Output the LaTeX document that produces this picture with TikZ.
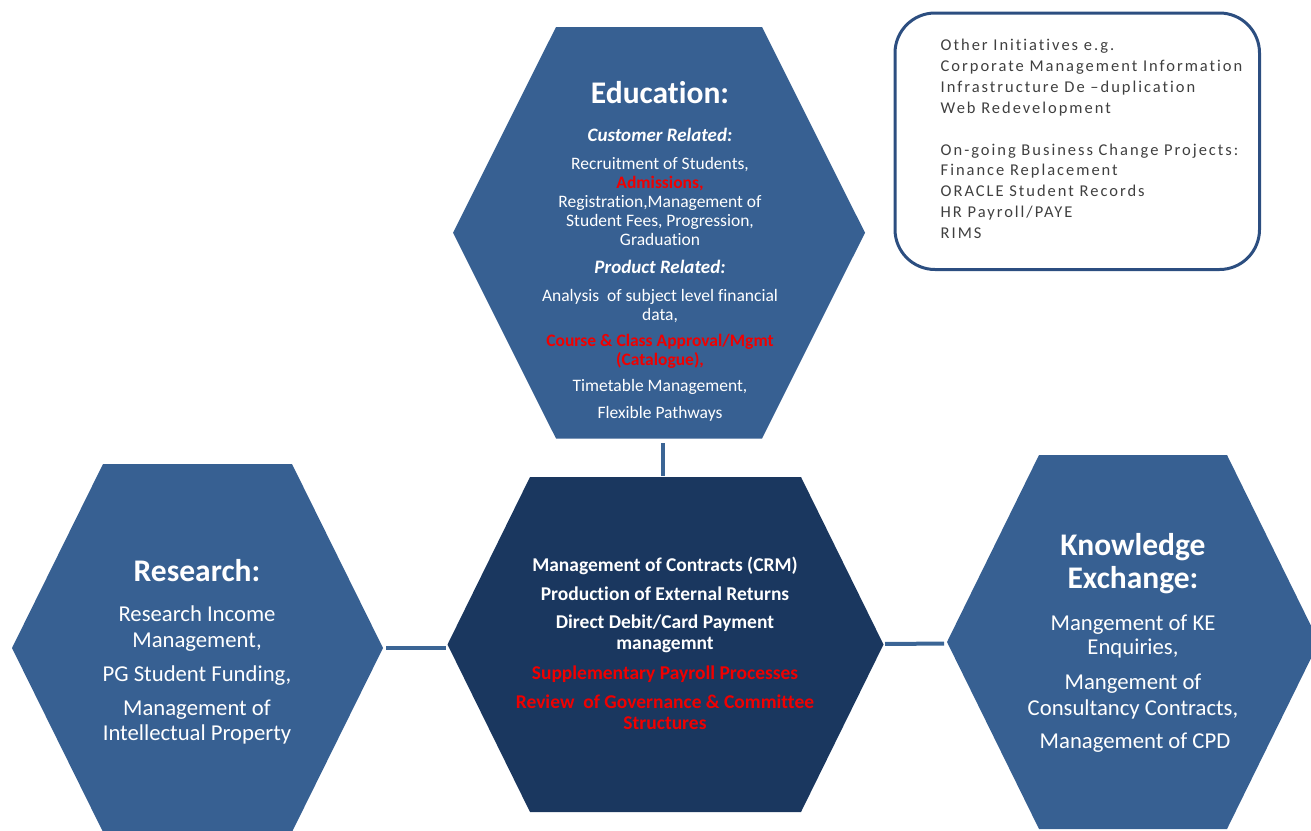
\documentclass[tikz,border=0pt]{standalone}
\usepackage{fontspec}
\setmainfont{Carlito}[Ligatures=NoCommon]
\newfontfamily\boxfont[LetterSpace=12,Ligatures=NoCommon]{Carlito}

\definecolor{hexblue}{HTML}{376092}
\definecolor{hexdark}{HTML}{1A375F}
\definecolor{linkblue}{HTML}{3B6595}
\definecolor{boxline}{HTML}{2C4E80}
\definecolor{boxtext}{HTML}{3F3F3F}
\definecolor{hot}{RGB}{240,0,0}

\newcommand\fs[2]{\fontsize{#1}{#2}\selectfont}

% flat-topped hexagon: name, centre x, centre y, half top edge, side offset, half height, fill
\newcommand\hexagon[7]{%
  \path[fill=#7] (#2-#4-#5,#3) -- (#2-#4,#3-#6) -- (#2+#4,#3-#6)
    -- (#2+#4+#5,#3) -- (#2+#4,#3+#6) -- (#2-#4,#3+#6) -- cycle;
}

% text nodes are placed by the baseline of their last line
\tikzset{
  body/.style={text=white, align=center, inner sep=0pt, anchor=base},
  title/.style={body, font=\fs{31.5}{33.3}\bfseries},
  link/.style={draw=linkblue, line width=4pt},
  notebox/.style={draw=boxline, line width=3pt, rounded corners=40pt},
  note/.style={text=boxtext, align=left, inner sep=0pt, anchor=base west,
    font=\boxfont\fs{16.5}{20.8}},
}

\begin{document}
\begin{tikzpicture}[x=1pt,y=-1pt]
\useasboundingbox (0,0) rectangle (1311,830);

% hexagons
\hexagon{edu}{659}{232.75}{103}{103}{205.75}{hexblue}
\hexagon{ctr}{665.5}{644.5}{135.5}{82.5}{167.5}{hexdark}
\hexagon{res}{197.5}{648}{94.5}{91}{184}{hexblue}
\hexagon{ke}{1133}{642}{94}{92}{187}{hexblue}

% connector end points on the hexagon borders
\coordinate (edu-s) at (662.5,438.5);
\coordinate (ctr-n) at (662.5,477);
\coordinate (res-e) at (383,647.5);
\coordinate (ctr-w) at (448,647.5);
\coordinate (ctr-e) at (883,644);
\coordinate (ke-w) at (947,643.5);

\draw[link, shorten <=4.5pt, shorten >=1pt] (edu-s) -- (ctr-n);
\draw[link, shorten <=3pt, shorten >=2pt] (res-e) -- (ctr-w);
\draw[link, shorten <=2pt, shorten >=3pt] (ctr-e) -- (ke-w);

% Education
\node[title] (edu-title) at (660,103.5) {Education:};
\node[body, font=\fs{19}{20}\bfseries\itshape] (edu-cust) at (660,141.7) {Customer Related:};
\node[body, font=\fs{17.5}{19.1}] (edu-c1) at (660,245.5) {Recruitment of Students,\\
  {\bfseries\color{hot}Admissions,}\\Registration,Management of\\Student Fees, Progression,\\Graduation};
\node[body, font=\fs{19}{20}\bfseries\itshape] (edu-prod) at (660,273.3) {Product Related:};
\node[body, font=\fs{17.5}{18.5}] (edu-p1) at (660,320) {Analysis\ \ of subject level financial\\data,};
\node[body, font=\fs{17.5}{18.3}\bfseries, text=hot] (edu-p2) at (660,365) {Course \& Class Approval/Mgmt\\(Catalogue),};
\node[body, font=\fs{17.5}{19}] (edu-p3) at (660,391.7) {Timetable Management,};
\node[body, font=\fs{17.5}{19}] (edu-p4) at (660,418.3) {Flexible Pathways};

% Centre
\node[body, font=\fs{19.5}{21}\bfseries] (ctr-1) at (665,571.7) {Management of Contracts (CRM)};
\node[body, font=\fs{19.5}{21}\bfseries] (ctr-2) at (665,600) {Production of External Returns};
\node[body, font=\fs{19.5}{21}\bfseries] (ctr-3) at (665,649.3) {Direct Debit/Card Payment\\managemnt};
\node[body, font=\fs{19.5}{21}\bfseries, text=hot] (ctr-4) at (665,679.3) {Supplementary Payroll Processes};
\node[body, font=\fs{19.5}{21}\bfseries, text=hot] (ctr-5) at (665,729.3) {Review\ \ of Governance \& Committee\\Structures};

% Research
\node[title] (res-title) at (197,581.7) {Research:};
\node[body, font=\fs{22.7}{25.3}] (res-1) at (197,647) {Research Income\\Management,};
\node[body, font=\fs{22.7}{25.3}] (res-2) at (197,681) {PG Student Funding,};
\node[body, font=\fs{22.7}{25}] (res-3) at (197,740) {Management of\\Intellectual Property};

% Knowledge Exchange
\node[title] (ke-title) at (1133,588.3) {Knowledge\\Exchange:};
\node[body, font=\fs{22.7}{24}] (ke-1) at (1133,654) {Mangement of KE\\Enquiries,};
\node[body, font=\fs{22.7}{25.7}] (ke-2) at (1133,715) {Mangement of\\Consultancy Contracts,};
\node[body, font=\fs{22.7}{25}] (ke-3) at (1135,748.3) {Management of CPD};

% Other initiatives box
\draw[notebox] (895,13) rectangle (1259.5,269.5);
\node[note] (note-1) at (940.5,113.3) {Other Initiatives e.g.\\Corporate Management Information\\
  Infrastructure De –duplication\\Web Redevelopment};
\node[note] (note-2) at (940.5,238.3) {On-going Business Change Projects:\\Finance Replacement\\
  ORACLE Student Records\\HR Payroll/PAYE\\RIMS};
\end{tikzpicture}
\end{document}
